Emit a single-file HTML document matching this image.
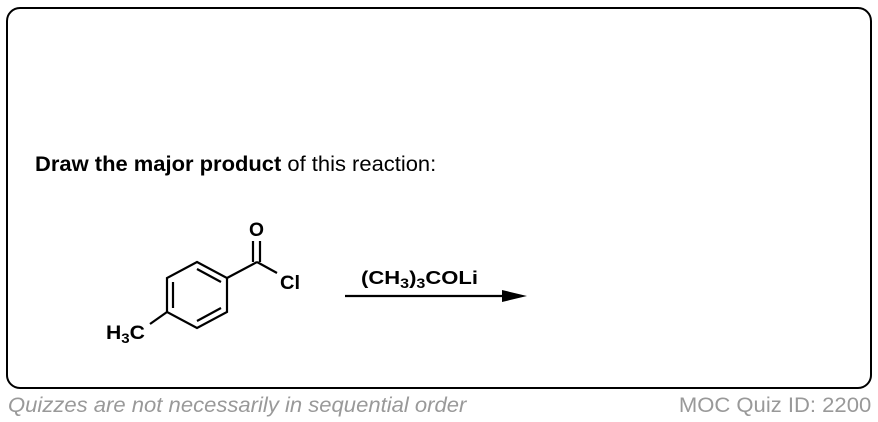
<!DOCTYPE html>
<html><head><meta charset="utf-8"><style>
body{margin:0;width:878px;height:422px;background:#fff;position:relative;font-family:"Liberation Sans",Arial,sans-serif;overflow:hidden}
.box{position:absolute;left:6px;top:7px;width:862px;height:378px;border:2.5px solid #000;border-radius:14px}
.q{position:absolute;left:35px;top:154px;font-size:21px;line-height:1;color:#000;transform:scaleX(1.045);transform-origin:0 0;white-space:nowrap}
.f{position:absolute;top:394px;font-size:21px;color:#999;white-space:nowrap;transform:scaleX(1.05)}
</style></head><body>
<div class="box"></div>
<div class="q"><b>Draw the major product</b> of this reaction:</div>
<svg width="878" height="422" style="position:absolute;left:0;top:0" font-family="Liberation Sans, Arial, sans-serif" font-weight="bold">
<g stroke="#000" stroke-width="2.2" fill="none">
<polygon points="197,262 227,278 227,312 197,328 167,312 167,278"/>
<line x1="173" y1="282" x2="173" y2="308"/>
<line x1="197" y1="269" x2="221" y2="282"/>
<line x1="221" y1="308" x2="197" y2="321"/>
<line x1="227" y1="278" x2="257" y2="262"/>
<line x1="257" y1="262" x2="277" y2="273"/>
<line x1="253" y1="262" x2="253" y2="241"/>
<line x1="260" y1="262" x2="260" y2="241"/>
<line x1="167" y1="312" x2="150" y2="324"/>
<line x1="345" y1="296" x2="510" y2="296"/>
</g>
<polygon points="527,296 502,290 502,302" fill="#000"/>
<text x="249" y="236" font-size="19.5" textLength="15" lengthAdjust="spacingAndGlyphs">O</text>
<text x="280" y="289" font-size="19.5" textLength="20" lengthAdjust="spacingAndGlyphs">Cl</text>
<text x="106" y="339" font-size="19" textLength="39" lengthAdjust="spacingAndGlyphs">H<tspan font-size="13.5" dy="4">3</tspan><tspan dy="-4">C</tspan></text>
<text x="361" y="284" font-size="18.5" textLength="117" lengthAdjust="spacingAndGlyphs">(CH<tspan font-size="13.5" dy="4">3</tspan><tspan dy="-4">)</tspan><tspan font-size="13.5" dy="4">3</tspan><tspan dy="-4">COLi</tspan></text>
</svg>
<div class="f" style="left:8px;font-style:italic;transform-origin:0 0">Quizzes are not necessarily in sequential order</div>
<div class="f" style="right:7px;transform-origin:100% 0">MOC Quiz ID: 2200</div>
</body></html>
